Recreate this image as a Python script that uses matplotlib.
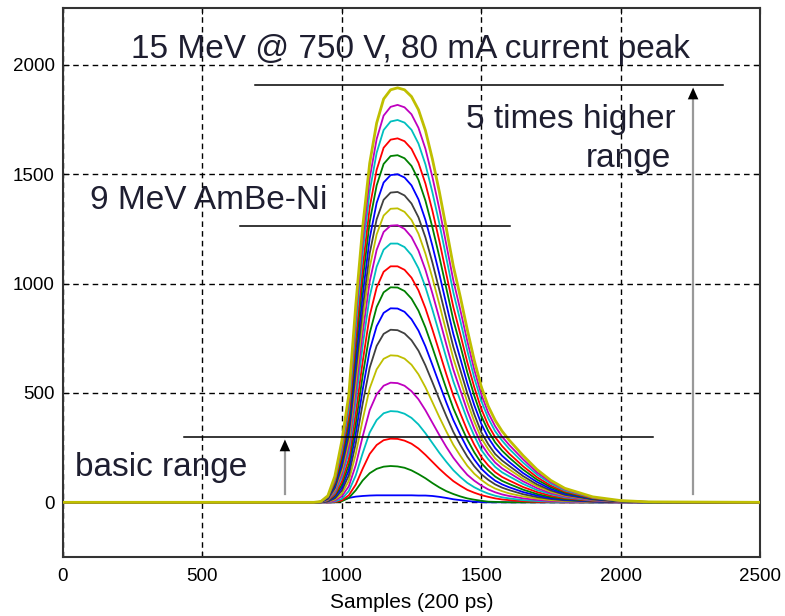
import matplotlib
matplotlib.use("Agg")
import matplotlib.pyplot as plt

plt.rcParams["font.family"] = ["Liberation Sans", "DejaVu Sans"]

samples = [0, 900, 925, 950, 975, 1000, 1025, 1050, 1075, 1100, 1125, 1150, 1175, 1200, 1225, 1250, 1275,
           1300, 1325, 1350, 1375, 1400, 1425, 1450, 1475, 1500, 1525, 1550, 1575, 1600, 1650, 1700, 1750,
           1800, 1900, 2000, 2100, 2500]

# pulses, smallest to largest
p01 = [0, 0, 0, 0, 0, 10, 20, 26, 29, 31, 32, 32, 32, 32, 32, 32, 31, 31, 29, 25, 20, 14, 10, 6, 3, 1, 0, 0, 0, 0,
       0, 0, 0, 0, 0, 0, 0, 0]
p02 = [0, 0, 0, 0, 0, 5, 20, 55, 100, 133, 153, 163, 166, 164, 158, 146, 129, 110, 88, 68, 51, 38, 27, 18, 12, 7,
       3, 2, 1, 0, 0, 0, 0, 0, 0, 0, 0, 0]
p03 = [0, 0, 0, 0, 1, 9, 32, 81, 154, 221, 262, 284, 291, 290, 282, 268, 246, 217, 185, 153, 124, 97, 76, 57, 44,
       33, 25, 18, 13, 10, 5, 2, 1, 0, 0, 0, 0, 0]
p04 = [0, 0, 0, 1, 4, 16, 51, 123, 225, 319, 376, 407, 417, 415, 405, 386, 356, 316, 271, 226, 185, 147, 116, 89,
       69, 53, 40, 30, 23, 18, 10, 6, 3, 1, 0, 0, 0, 0]
p05 = [0, 0, 0, 1, 8, 27, 73, 170, 302, 421, 494, 533, 547, 545, 533, 508, 471, 421, 364, 307, 253, 204, 163, 126,
       99, 77, 59, 46, 36, 29, 18, 11, 6, 3, 1, 0, 0, 0]
p06 = [0, 0, 0, 3, 13, 39, 98, 220, 378, 521, 608, 656, 672, 670, 657, 629, 585, 526, 458, 389, 324, 263, 213, 167,
       131, 103, 80, 63, 51, 41, 27, 17, 10, 6, 2, 1, 0, 0]
p07 = [0, 0, 0, 4, 18, 53, 123, 269, 452, 615, 715, 770, 789, 787, 772, 741, 693, 626, 549, 470, 394, 322, 263, 209,
       165, 129, 103, 82, 67, 56, 37, 24, 15, 9, 3, 1, 0, 0]
p08 = [0, 0, 1, 5, 24, 66, 147, 314, 516, 695, 805, 866, 887, 886, 871, 837, 785, 713, 628, 541, 456, 376, 309, 247,
       196, 154, 124, 99, 82, 69, 47, 31, 19, 12, 4, 1, 0, 0]
p09 = [0, 0, 1, 7, 30, 80, 171, 359, 580, 773, 893, 960, 983, 982, 966, 931, 876, 799, 708, 613, 519, 430, 357, 287,
       229, 180, 146, 118, 98, 84, 58, 38, 24, 15, 6, 2, 0, 0]
p10 = [0, 0, 1, 9, 36, 95, 198, 407, 645, 853, 982, 1054, 1079, 1079, 1063, 1027, 969, 887, 790, 688, 585, 488, 407,
       329, 264, 208, 169, 138, 116, 100, 70, 47, 30, 19, 7, 2, 1, 0]
p11 = [0, 0, 1, 11, 44, 114, 228, 461, 718, 940, 1077, 1155, 1183, 1183, 1167, 1130, 1070, 984, 881, 771, 660, 553,
       465, 378, 304, 240, 197, 162, 137, 119, 84, 56, 37, 23, 9, 3, 1, 0]
p12 = [0, 0, 2, 12, 51, 129, 254, 506, 777, 1009, 1154, 1236, 1265, 1267, 1250, 1213, 1151, 1063, 955, 840, 721,
       607, 513, 419, 337, 267, 220, 182, 155, 135, 96, 65, 42, 27, 10, 3, 1, 0]
p13 = [0, 0, 2, 14, 58, 145, 279, 550, 833, 1074, 1225, 1311, 1342, 1344, 1328, 1291, 1228, 1137, 1026, 905, 780,
       659, 559, 459, 370, 294, 243, 201, 173, 151, 108, 74, 48, 31, 12, 4, 1, 0]
p14 = [0, 0, 2, 16, 65, 161, 304, 593, 888, 1138, 1294, 1383, 1416, 1419, 1403, 1366, 1303, 1211, 1096, 970, 839,
       711, 606, 499, 403, 321, 266, 221, 191, 167, 120, 82, 54, 34, 13, 4, 1, 0]
p15 = [0, 0, 2, 18, 73, 179, 333, 642, 949, 1207, 1369, 1462, 1496, 1500, 1485, 1449, 1385, 1291, 1173, 1043, 905,
       770, 658, 545, 445, 360, 296, 248, 213, 185, 134, 93, 61, 39, 15, 5, 1, 0]
p16 = [0, 0, 3, 21, 83, 199, 365, 696, 1016, 1282, 1449, 1547, 1583, 1587, 1573, 1538, 1474, 1379, 1257, 1122, 978,
       834, 717, 595, 488, 396, 327, 274, 236, 205, 150, 104, 69, 44, 17, 5, 1, 0]
p17 = [0, 0, 3, 23, 91, 218, 394, 744, 1075, 1348, 1520, 1621, 1658, 1664, 1651, 1616, 1552, 1457, 1333, 1194,
       1043, 893, 769, 641, 527, 428, 353, 298, 257, 223, 165, 115, 76, 49, 19, 6, 1, 0]
p18 = [0, 0, 3, 25, 101, 240, 428, 800, 1142, 1421, 1598, 1702, 1741, 1748, 1736, 1703, 1640, 1545, 1417, 1274,
       1117, 960, 830, 694, 570, 465, 385, 325, 282, 245, 182, 127, 85, 54, 21, 6, 2, 0]
p19 = [0, 0, 3, 28, 109, 258, 456, 846, 1196, 1481, 1661, 1768, 1808, 1817, 1806, 1774, 1712, 1616, 1487, 1341,
       1178, 1015, 880, 738, 607, 495, 410, 348, 300, 263, 197, 137, 92, 59, 22, 7, 2, 0]
p20 = [0, 0, 4, 30, 119, 280, 489, 900, 1260, 1550, 1734, 1844, 1886, 1895, 1886, 1855, 1795, 1700, 1569, 1419,
       1251, 1080, 940, 790, 650, 530, 440, 375, 325, 285, 214, 150, 100, 64, 25, 8, 2, 0]
pulses = [p01, p02, p03, p04, p05, p06, p07, p08, p09, p10, p11, p12, p13, p14, p15, p16, p17, p18, p19, p20]

# MATLAB-style colour order
colors = ["#0000ff", "#008000", "#ff0000", "#00bfbf", "#bf00bf", "#bfbf00", "#404040"]

# range marker levels and annotations
basic_level = 300
ambe_level = 1262
high_level = 1909
labels = ["15 MeV @ 750 V, 80 mA current peak", "9 MeV AmBe-Ni", "5 times higher", "range", "basic range"]

fig = plt.figure(figsize=(7.85, 6.16), dpi=100)
ax = fig.add_axes([63 / 785, 1 - 557 / 616, 697 / 785, 549 / 616])

for i, p in enumerate(pulses):
    ax.plot(samples, p, color=colors[i % 7], lw=2.0 if i == len(pulses) - 1 else 1.3, zorder=3)

ax.set_xlim(0, 2500)
ax.set_ylim(-250, 2260)
ax.set_xticks([0, 500, 1000, 1500, 2000, 2500])
ax.set_yticks([0, 500, 1000, 1500, 2000])
ax.grid(True, color="k", linestyle=(0, (4, 3)), linewidth=1.0, zorder=1)
ax.tick_params(direction="in", length=4, top=True, right=True, labelsize=13.5)
ax.tick_params(axis="x", pad=8)
ax.tick_params(axis="y", pad=6)
for s in ax.spines.values():
    s.set_color("#333333")
    s.set_linewidth(1.5)
ax.set_xlabel("Samples (200 ps)", fontsize=15, labelpad=6)

ax.plot([689, 2367], [high_level, high_level], color="k", lw=1.1, zorder=4)
ax.plot([635, 1603], [ambe_level, ambe_level], color="k", lw=1.1, zorder=2)
ax.plot([434, 2116], [basic_level, basic_level], color="k", lw=1.1, zorder=4)

# gray shafts with black heads
for ax_x, top in [(796, basic_level), (2260, high_level)]:
    ax.plot([ax_x, ax_x], [36, top - 40], color="#999999", lw=1.6, zorder=4)
    ax.annotate("", xy=(ax_x, top), xytext=(ax_x, top - 60),
                arrowprops=dict(arrowstyle="-|>,head_length=0.85,head_width=0.38", color="k", lw=0),
                zorder=5)

tc = "#1e1e30"
ax.text(1246, 2032, labels[0], fontsize=24, color=tc, ha="center", va="baseline")
ax.text(97, 1341, labels[1], fontsize=24, color=tc, ha="left", va="baseline")
ax.text(2197, 1711, labels[2], fontsize=24, color=tc, ha="right", va="baseline")
ax.text(2180, 1534, labels[3], fontsize=24, color=tc, ha="right", va="baseline")
ax.text(43, 120, labels[4], fontsize=24, color=tc, ha="left", va="baseline")

fig.savefig("out.png")
